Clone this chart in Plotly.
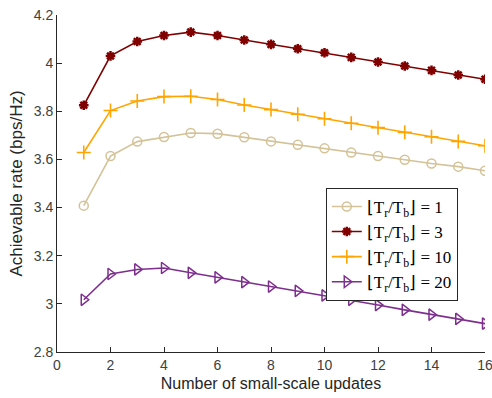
import plotly.graph_objects as go

x_updates = list(range(1, 17))

rate_ratio1 = [3.408, 3.614, 3.674, 3.693, 3.710, 3.707, 3.692, 3.675, 3.661, 3.646,
               3.629, 3.614, 3.599, 3.583, 3.570, 3.553]
rate_ratio3 = [3.825, 4.030, 4.090, 4.115, 4.129, 4.115, 4.096, 4.078, 4.060, 4.043,
               4.024, 4.005, 3.988, 3.970, 3.951, 3.933]
rate_ratio10 = [3.629, 3.803, 3.843, 3.861, 3.8625, 3.849, 3.826, 3.807, 3.7875, 3.769,
                3.750, 3.732, 3.7125, 3.694, 3.675, 3.657]
rate_ratio20 = [3.017, 3.124, 3.143, 3.149, 3.129, 3.110, 3.090, 3.072, 3.054, 3.035,
                3.017, 2.995, 2.975, 2.955, 2.9375, 2.918]

labels = ["⌊T<sub>r</sub>/T<sub>b</sub>⌋ = 1", "⌊T<sub>r</sub>/T<sub>b</sub>⌋ = 3",
          "⌊T<sub>r</sub>/T<sub>b</sub>⌋ = 10", "⌊T<sub>r</sub>/T<sub>b</sub>⌋ = 20"]

x_ticks = [0, 2, 4, 6, 8, 10, 12, 14, 16]
y_ticks = [2.8, 3.0, 3.2, 3.4, 3.6, 3.8, 4.0, 4.2]
y_ticktext = ["2.8", "3", "3.2", "3.4", "3.6", "3.8", "4", "4.2"]

series = [
    (rate_ratio1, "rgb(212,194,152)", "circle-open", 9, 1.5),
    (rate_ratio3, "rgb(128,0,0)", "asterisk-open", 8, 2.5),
    (rate_ratio10, "rgb(255,165,0)", "cross-thin-open", 10, 1.6),
    (rate_ratio20, "rgb(126,47,142)", "triangle-right-open", 10, 1.5),
]

fig = go.Figure()
for (vals, col, sym, sz, mlw), name in zip(series, labels):
    fig.add_trace(go.Scatter(
        x=x_updates, y=vals, mode="lines+markers", name=name,
        line=dict(color=col, width=1.6),
        marker=dict(symbol=sym, size=sz, color=col, line=dict(color=col, width=mlw)),
    ))

axis_col = "#262626"
fig.update_layout(
    width=492, height=398,
    margin=dict(l=57, r=7, t=15, b=46),
    paper_bgcolor="white", plot_bgcolor="white",
    font=dict(family="Liberation Sans, Arial, sans-serif", color=axis_col, size=14),
    showlegend=True,
    legend=dict(
        x=0.628, y=0.487, xanchor="left", yanchor="top",
        bgcolor="white", bordercolor=axis_col, borderwidth=1,
        font=dict(family="Liberation Serif, serif", size=17, color="black"),
        tracegroupgap=0, itemwidth=30,
    ),
    xaxis=dict(
        range=[0, 16], tickvals=x_ticks, showgrid=False, zeroline=False,
        showline=True, linecolor=axis_col, linewidth=1,
        ticks="inside", ticklen=5, tickcolor=axis_col,
        ticklabeloverflow="allow", automargin=False,
        tickfont=dict(color="#404040"),
        title=dict(text="Number of small-scale updates", font=dict(size=16), standoff=6),
    ),
    yaxis=dict(
        range=[2.8, 4.2], tickvals=y_ticks, ticktext=y_ticktext, showgrid=False, zeroline=False,
        showline=True, linecolor=axis_col, linewidth=1,
        ticks="inside", ticklen=5, tickcolor=axis_col,
        ticklabeloverflow="allow", automargin=False,
        tickfont=dict(color="#404040"),
        title=dict(text="Achievable rate (bps/Hz)", font=dict(size=17), standoff=6),
    ),
)

fig.write_html("out.html")
